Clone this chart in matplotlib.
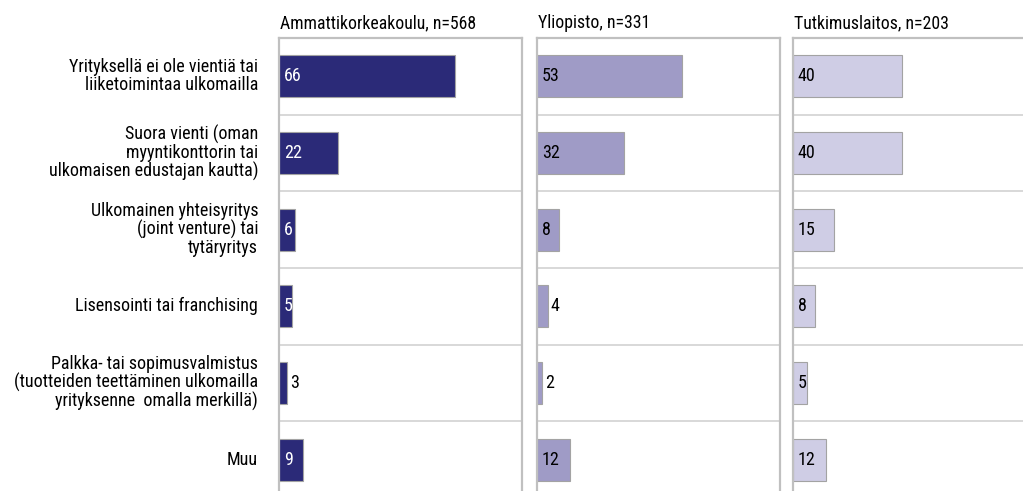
import matplotlib
matplotlib.use("Agg")
import matplotlib.pyplot as plt
from matplotlib import font_manager

fams = {f.name for f in font_manager.fontManager.ttflist}
FONT = ['Liberation Sans Narrow', 'DejaVu Sans'] if 'Liberation Sans Narrow' in fams else ['Roboto Condensed', 'DejaVu Sans']
plt.rcParams['font.family'] = FONT

categories = [
    "Yrityksellä ei ole vientiä tai\nliiketoimintaa ulkomailla",
    "Suora vienti (oman\nmyyntikonttorin tai\nulkomaisen edustajan kautta)",
    "Ulkomainen yhteisyritys\n(joint venture) tai\ntytäryritys",
    "Lisensointi tai franchising",
    "Palkka- tai sopimusvalmistus\n(tuotteiden teettäminen ulkomailla\nyrityksenne  omalla merkillä)",
    "Muu",
]
panel_titles = ["Ammattikorkeakoulu, n=568", "Yliopisto, n=331", "Tutkimuslaitos, n=203"]
amk = [66, 22, 6, 5, 3, 9]
yliopisto = [53, 32, 8, 4, 2, 12]
tutkimus = [40, 40, 15, 8, 5, 12]

series = [amk, yliopisto, tutkimus]
colors = ["#2B2A78", "#9F9BC6", "#CFCDE5"]
inside_text = ["white", "black", "black"]

W, H = 1023, 491
fig = plt.figure(figsize=(W / 100, H / 100), dpi=100)
lefts = [279, 537, 793]
pw = 243
xmax = [91, 89, 89]
top, bottom = 38, 498
for i, (vals, title) in enumerate(zip(series, panel_titles)):
    ax = fig.add_axes([lefts[i] / W, 1 - bottom / H, pw / W, (bottom - top) / H])
    ypos = list(range(len(categories)))
    ax.barh(ypos, vals, height=0.55, color=colors[i], edgecolor="#A3A3A3", linewidth=0.8)
    ax.set_xlim(0, xmax[i])
    ax.set_ylim(len(categories) - 0.5, -0.5)
    for y in range(len(categories) - 1):
        ax.axhline(y + 0.5, color="#D2D2D2", linewidth=1.2)
    for y, v in zip(ypos, vals):
        if v >= 5:
            ax.annotate(str(v), (0, y), xytext=(3.5, 0), textcoords="offset points",
                        va="center", ha="left", fontsize=13, color=inside_text[i])
        else:
            ax.annotate(str(v), (v, y), xytext=(2, 0), textcoords="offset points",
                        va="center", ha="left", fontsize=13, color="black")
    ax.set_xticks([])
    ax.set_yticks([])
    for s in ["left", "right", "top"]:
        ax.spines[s].set_color("#C0C0C0")
        ax.spines[s].set_linewidth(1.6)
    ax.spines["bottom"].set_visible(False)
    ax.text(0.005, 1.013, title, transform=ax.transAxes, ha="left", va="bottom", fontsize=12.8)
    if i == 0:
        for y, c in zip(ypos, categories):
            ax.annotate(c, (0, y), xytext=(-15, 0), textcoords="offset points",
                        ha="right", va="center", fontsize=13, linespacing=0.98,
                        annotation_clip=False)

fig.savefig("out.png", dpi=100)
